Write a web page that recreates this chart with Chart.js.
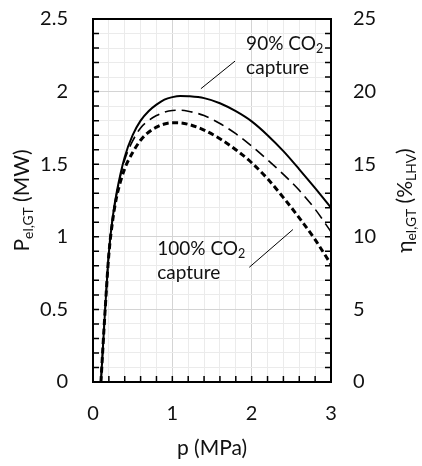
<!DOCTYPE html>
<html>
<head>
<meta charset="utf-8">
<script src="https://cdn.jsdelivr.net/npm/chart.js@4.4.1/dist/chart.umd.min.js"></script>
<style>
html,body{margin:0;background:#fff}
#wrap{width:422px;height:466px}
</style>
</head>
<body>
<div id="wrap"><canvas id="chart"></canvas></div>
<script>
// pressure (MPa)
const pressure=[0.1,0.15,0.2,0.25,0.3,0.4,0.5,0.6,0.7,0.8,0.9,1.0,1.1,1.2,1.4,1.6,1.8,2.0,2.2,2.4,2.6,2.8,3.0];
// gas turbine electric power (MW)
const power90 =[0,0.47,0.89,1.14,1.31,1.55,1.70,1.80,1.865,1.91,1.945,1.962,1.97,1.968,1.955,1.92,1.865,1.795,1.70,1.59,1.465,1.335,1.20];
const powerMid=[0,0.47,0.89,1.13,1.30,1.53,1.66,1.75,1.80,1.835,1.858,1.87,1.872,1.865,1.835,1.78,1.71,1.625,1.53,1.43,1.32,1.19,1.035];
const power100=[0,0.47,0.88,1.12,1.28,1.47,1.58,1.665,1.72,1.755,1.777,1.786,1.785,1.775,1.735,1.675,1.60,1.51,1.40,1.27,1.13,0.98,0.81];

const FONT='Lato, "Noto Sans", sans-serif';

function pts(ys){return pressure.map((p,i)=>({x:p,y:ys[i]}));}
function isMult(v,m){const r=v/m;return Math.abs(r-Math.round(r))<1e-6;}
// fixed axis size, no label overhang padding
function fixSize(prop,val){
  return s=>{s[prop]=val;s.paddingTop=s.paddingBottom=s.paddingLeft=s.paddingRight=0;};
}

// text with subscripts: parts = [[text, isSub], ...]
function richWidth(ctx,parts,size){
  let w=0;
  parts.forEach(([t,sub])=>{ctx.font=(sub?size*0.66:size)+'px '+FONT;w+=ctx.measureText(t).width;});
  return w;
}
function drawRich(ctx,parts,x,y,size){
  ctx.textBaseline='middle';ctx.textAlign='left';
  parts.forEach(([t,sub])=>{
    ctx.font=(sub?size*0.66:size)+'px '+FONT;
    ctx.fillText(t,x,sub?y+size*0.3:y);
    x+=ctx.measureText(t).width;
  });
}

const deco={
  id:'deco',
  afterDraw(chart){
    const {ctx,chartArea:a,scales:{x,y}}=chart;
    ctx.save();
    ctx.strokeStyle='#000';ctx.fillStyle='#000';
    // inward ticks
    ctx.lineWidth=1.5;
    ctx.beginPath();
    for(let i=1;i<25;i++){
      const py=y.getPixelForValue(i/10);
      ctx.moveTo(a.left,py);ctx.lineTo(a.left+6,py);
      ctx.moveTo(a.right,py);ctx.lineTo(a.right-6,py);
    }
    for(let i=1;i<15;i++){
      const px=x.getPixelForValue(i/5);
      ctx.moveTo(px,a.bottom);ctx.lineTo(px,a.bottom-6);
    }
    ctx.stroke();
    // frame
    ctx.lineWidth=2;
    ctx.strokeRect(a.left,a.top,a.right-a.left,a.bottom-a.top);

    // annotations
    ctx.lineWidth=1;
    ctx.beginPath();
    ctx.moveTo(x.getPixelForValue(1.36),y.getPixelForValue(2.02));
    ctx.lineTo(x.getPixelForValue(1.79),y.getPixelForValue(2.21));
    ctx.moveTo(x.getPixelForValue(1.97),y.getPixelForValue(0.79));
    ctx.lineTo(x.getPixelForValue(2.52),y.getPixelForValue(1.05));
    ctx.stroke();
    ctx.fillStyle='#111';
    drawRich(ctx,[['90% CO',0],['2',1]],x.getPixelForValue(1.93),y.getPixelForValue(2.33),19);
    drawRich(ctx,[['capture',0]],x.getPixelForValue(1.93),y.getPixelForValue(2.16),19);
    drawRich(ctx,[['100% CO',0],['2',1]],x.getPixelForValue(0.81),y.getPixelForValue(0.92),19);
    drawRich(ctx,[['capture',0]],x.getPixelForValue(0.81),y.getPixelForValue(0.75),19);

    // axis titles
    const cy=(a.top+a.bottom)/2;
    const left=[['P',0],['el,GT',1],[' (MW)',0]];
    const right=[['η',0],['el,GT',1],[' (%',0],['LHV',1],[')',0]];
    [[left,22],[right,405]].forEach(([parts,cx])=>{
      ctx.save();
      ctx.translate(cx,cy);ctx.rotate(-Math.PI/2);
      drawRich(ctx,parts,-richWidth(ctx,parts,21)/2,0,21);
      ctx.restore();
    });
    ctx.font='21px '+FONT;ctx.textAlign='center';ctx.textBaseline='middle';
    ctx.fillText('p (MPa)',(a.left+a.right)/2,448);
    ctx.restore();
  }
};

const tickFont={family:FONT,size:20};

new Chart(document.getElementById('chart'),{
  type:'line',
  data:{
    datasets:[
      {data:pts(power90),borderColor:'#000',borderWidth:2},
      {data:pts(powerMid),borderColor:'#000',borderWidth:1.6,borderDash:[11,6]},
      {data:pts(power100),borderColor:'#000',borderWidth:3,borderDash:[6,3.5]}
    ]
  },
  options:{
    responsive:true,
    maintainAspectRatio:false,
    animation:false,
    layout:{padding:{top:19,left:0,right:0,bottom:0}},
    elements:{point:{radius:0},line:{cubicInterpolationMode:'monotone'}},
    plugins:{legend:{display:false},tooltip:{enabled:false}},
    scales:{
      x:{
        type:'linear',min:0,max:3,
        border:{display:false},
        grid:{drawTicks:false,color:c=>isMult(c.tick.value,1)?'#d4d4d4':'#ebebeb'},
        ticks:{stepSize:0.2,maxTicksLimit:40,autoSkip:false,maxRotation:0,padding:20,color:'#111',font:tickFont,
          callback:v=>isMult(v,1)?String(Math.round(v)):''},
        afterFit:fixSize('height',84)
      },
      y:{
        min:0,max:2.5,
        border:{display:false},
        grid:{drawTicks:false,color:c=>isMult(c.tick.value,0.5)?'#d4d4d4':'#ebebeb'},
        ticks:{stepSize:0.1,maxTicksLimit:40,autoSkip:false,padding:25,color:'#111',font:tickFont,
          callback:v=>isMult(v,0.5)?String(Math.round(v*10)/10):''},
        afterFit:fixSize('width',93)
      },
      y2:{
        position:'right',min:0,max:25,
        border:{display:false},
        grid:{drawOnChartArea:false,drawTicks:false},
        ticks:{stepSize:5,padding:22,color:'#111',font:tickFont},
        afterFit:fixSize('width',91)
      }
    }
  },
  plugins:[deco]
});
</script>
</body>
</html>
